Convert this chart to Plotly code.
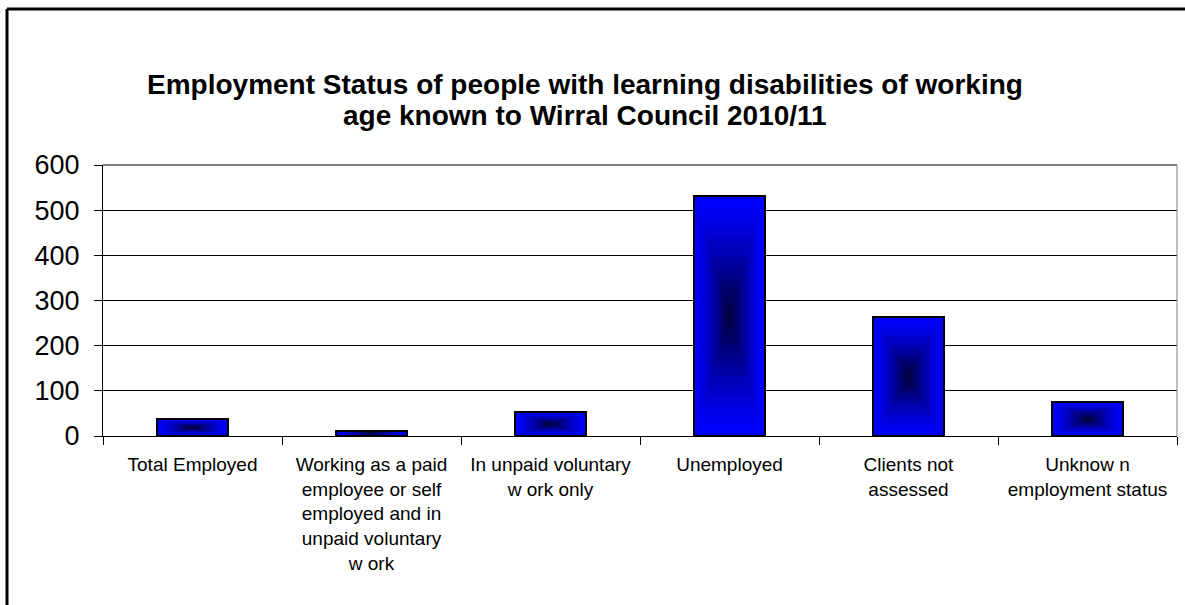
import plotly.graph_objects as go

# Employment status counts, Wirral Council 2010/11
categories = [
    "Total Employed",
    "Working as a paid<br>employee or self<br>employed and in<br>unpaid voluntary<br>w ork",
    "In unpaid voluntary<br>w ork only",
    "Unemployed",
    "Clients not<br>assessed",
    "Unknow n<br>employment status",
]
values = [37, 12, 53, 532, 263, 76]

title_lines = [
    "Employment Status of people with learning disabilities of working",
    "age known to Wirral Council 2010/11",
]

BAR_WIDTH = 0.4
LAYERS = 18
EDGE_BLUE = (0, 0, 255)
CORE_BLUE = (0, 0, 45)

fig = go.Figure()

# Outer bar with black outline
fig.add_trace(go.Bar(
    x=categories, y=values, width=BAR_WIDTH,
    marker=dict(color="rgb(0,0,255)", line=dict(color="black", width=2)),
    showlegend=False, hoverinfo="x+y",
))

# Nested shrinking rectangles give a "from centre" gradient fill
for k in range(1, LAYERS):
    t = k / LAYERS
    s = 1 - t
    w = t ** 1.3
    col = tuple(round(EDGE_BLUE[i] * (1 - w) + CORE_BLUE[i] * w) for i in range(3))
    fig.add_trace(go.Bar(
        x=categories,
        y=[v * s for v in values],
        base=[v * (1 - s) / 2 for v in values],
        width=BAR_WIDTH * s,
        marker=dict(color=f"rgb{col}", line=dict(width=0)),
        showlegend=False, hoverinfo="skip",
    ))

# Redraw the outline on top of the gradient layers
fig.add_trace(go.Bar(
    x=categories, y=values, width=BAR_WIDTH,
    marker=dict(color="rgba(0,0,0,0)", line=dict(color="black", width=2)),
    showlegend=False, hoverinfo="skip",
))

PLOT_L, PLOT_R, PLOT_T, PLOT_B = 103, 1177, 165, 436
W, H = 1185, 605
pw, ph = PLOT_R - PLOT_L, PLOT_B - PLOT_T

def px_x(px):
    return (px - PLOT_L) / pw

def px_y(py):
    return (PLOT_B - py) / ph

title_annotations = [
    dict(text=f"<b>{line}</b>", x=px_x(585), y=px_y(cy),
         xref="paper", yref="paper", xanchor="center", yanchor="middle",
         showarrow=False, font=dict(size=28, color="black"))
    for line, cy in zip(title_lines, (84, 115))
]

fig.update_layout(
    width=W, height=H,
    margin=dict(l=PLOT_L, r=W - PLOT_R, t=PLOT_T, b=H - PLOT_B, pad=0),
    paper_bgcolor="white", plot_bgcolor="white",
    barmode="overlay", bargap=0,
    font=dict(family="Liberation Sans, Arial, sans-serif", color="black"),
    showlegend=False,
    xaxis=dict(
        type="category",
        tickson="boundaries",
        ticks="outside", ticklen=8, tickcolor="black", tickwidth=1,
        showline=True, linecolor="black", linewidth=1,
        showgrid=False,
        tickfont=dict(size=19, color="black"),
        ticklabelstandoff=11,
    ),
    yaxis=dict(
        range=[0, 600], dtick=100, tick0=0,
        ticks="outside", ticklen=8, tickcolor="black", tickwidth=1,
        showline=True, linecolor="black", linewidth=1,
        showgrid=True, gridcolor="black", gridwidth=1,
        zeroline=False,
        tickfont=dict(size=27, color="black"),
        ticklabelstandoff=9,
    ),
    annotations=title_annotations,
    shapes=[
        # plot area border (top and right)
        dict(type="line", xref="paper", yref="paper", x0=0, x1=1, y0=1, y1=1,
             line=dict(color="#808080", width=2), layer="above"),
        dict(type="line", xref="paper", yref="paper", x0=1, x1=1, y0=0, y1=1,
             line=dict(color="#808080", width=1), layer="above"),
        # chart frame
        dict(type="line", xref="paper", yref="paper",
             x0=px_x(7), x1=px_x(7), y0=px_y(9), y1=px_y(620),
             line=dict(color="black", width=3), layer="above"),
        dict(type="line", xref="paper", yref="paper",
             x0=px_x(7), x1=px_x(1200), y0=px_y(9), y1=px_y(9),
             line=dict(color="black", width=3), layer="above"),
    ],
)

fig.write_html("out.html")
